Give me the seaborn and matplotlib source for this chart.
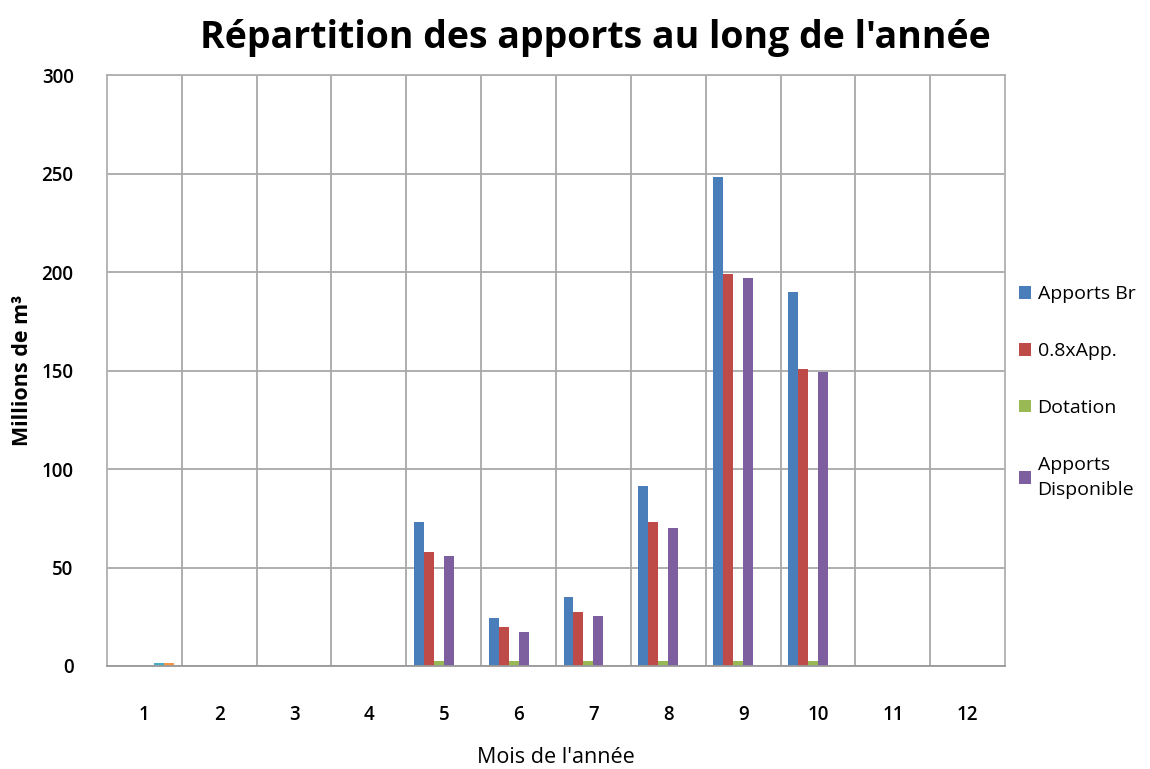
import numpy as np
import pandas as pd
import matplotlib
matplotlib.use("Agg")
import matplotlib.pyplot as plt
import seaborn as sns
from matplotlib.patches import Patch

# Data (millions of m3)
months = [1, 2, 3, 4, 5, 6, 7, 8, 9, 10, 11, 12]
apports_br = [0, 0, 0, 0, 73, 24.5, 35, 91.5, 248.5, 190, 0, 0]
app_08 = [0, 0, 0, 0, 58, 20, 27.5, 73, 199, 151, 0, 0]
dotation = [0, 0, 0, 0, 2.5, 2.5, 2.5, 2.5, 2.5, 2.5, 0, 0]
apports_disp = [0, 0, 0, 0, 56, 17.5, 25.5, 70, 197, 149.5, 0, 0]
# two extra series only visible in January, not shown in the legend
serie5 = [1.5, 0, 0, 0, 0, 0, 0, 0, 0, 0, 0, 0]
serie6 = [1.5, 0, 0, 0, 0, 0, 0, 0, 0, 0, 0, 0]

series_names = ["Apports Br", "0.8xApp.", "Dotation", "Apports\nDisponible", "Série5", "Série6"]
series_values = [apports_br, app_08, dotation, apports_disp, serie5, serie6]
colors = ["#4A7EBB", "#BE4B48", "#98B954", "#7D5FA0", "#4BACC6", "#F79646"]

df = pd.DataFrame({
    "Mois": np.repeat(months, len(series_names)),
    "Serie": series_names * len(months),
    "Valeur": [series_values[j][i] for i in range(len(months)) for j in range(len(series_names))],
})

sns.set_theme(style="white")
plt.rcParams["font.family"] = ["Open Sans", "DejaVu Sans"]
plt.rcParams["text.color"] = "black"
plt.rcParams["axes.labelcolor"] = "black"
plt.rcParams["xtick.color"] = "black"
plt.rcParams["ytick.color"] = "black"

fig = plt.figure(figsize=(11.5, 7.69), dpi=100)
ax = fig.add_axes([0.093, 0.134, 0.781, 0.768])

sns.barplot(data=df, x="Mois", y="Valeur", hue="Serie", hue_order=series_names,
            palette=colors, width=0.8, saturation=1, ax=ax, legend=False,
            edgecolor="none", linewidth=0)

ax.set_ylim(0, 300)
ax.set_xlim(-0.5, 11.5)
ax.set_yticks(range(0, 301, 50))
ax.yaxis.grid(True, color="#a8a8a8", linewidth=1.3)
for b in np.arange(0.5, 11.5, 1):
    ax.axvline(b, color="#a8a8a8", linewidth=1.3, zorder=0)
ax.set_axisbelow(True)
for s in ax.spines.values():
    s.set_color("#b0b0b0")
    s.set_linewidth(1.3)
ax.spines["bottom"].set_color("#999999")

ax.tick_params(axis="x", length=0, pad=28, labelsize=13.5)
ax.tick_params(axis="y", length=0, pad=24, labelsize=13.5)
for lbl in ax.get_xticklabels() + ax.get_yticklabels():
    lbl.set_fontweight("semibold")

ax.set_xlabel("Mois de l'année", fontsize=15.5, labelpad=16)
ax.set_ylabel("Millions de m³", fontsize=15.5, fontweight="bold", labelpad=6)
fig.suptitle("Répartition des apports au long de l'année", fontsize=27,
             fontweight="bold", x=0.518, y=0.975)

handles = [Patch(facecolor=colors[i], edgecolor="none") for i in range(4)]
leg = fig.legend(handles, series_names[:4], loc="center left", bbox_to_anchor=(0.871, 0.49),
                 frameon=False, fontsize=14, handlelength=0.6, handleheight=0.6,
                 handletextpad=0.35, labelspacing=2.0)
for t in leg.get_texts():
    t.set_linespacing(1.5)

fig.savefig("out.png", dpi=100)
